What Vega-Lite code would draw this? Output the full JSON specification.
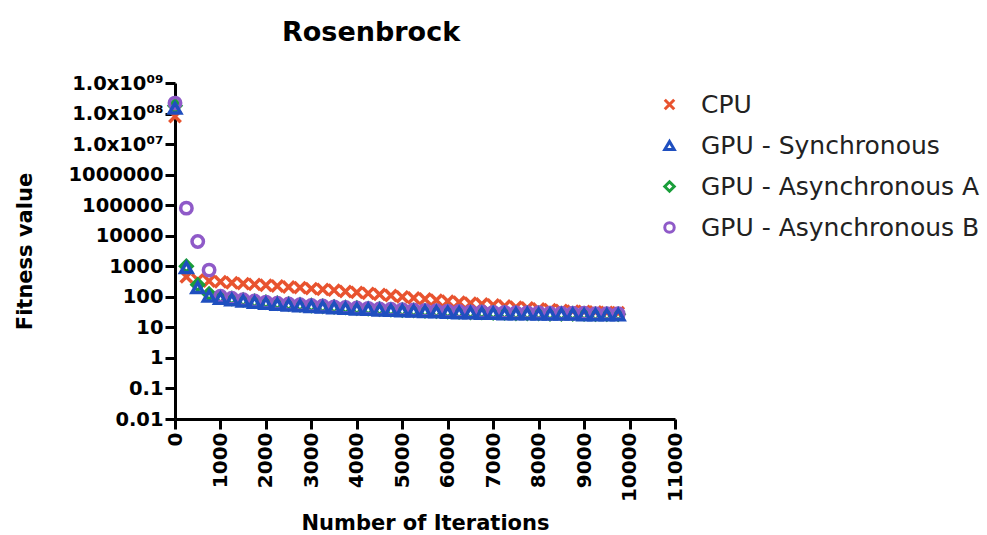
{
  "$schema": "https://vega.github.io/schema/vega-lite/v6.json",
  "width": 500,
  "height": 336,
  "autosize": {"type": "none"},
  "padding": {"left": 175, "top": 83, "right": 312, "bottom": 116},
  "background": "white",
  "config": {
    "view": {"stroke": null},
    "font": "DejaVu Sans"
  },
  "title": {
    "text": "Rosenbrock",
    "font": "DejaVu Sans",
    "fontSize": 27,
    "fontWeight": "bold",
    "color": "black",
    "anchor": "start",
    "frame": "group",
    "dx": 107,
    "offset": 26
  },
  "data": {
    "values": [
      {"it":0,"s":"CPU","v":80000000},{"it":250,"s":"CPU","v":450},{"it":500,"s":"CPU","v":360},{"it":750,"s":"CPU","v":330},{"it":1000,"s":"CPU","v":310},{"it":1250,"s":"CPU","v":290},{"it":1500,"s":"CPU","v":270},{"it":1750,"s":"CPU","v":255},{"it":2000,"s":"CPU","v":240},{"it":2250,"s":"CPU","v":225},{"it":2500,"s":"CPU","v":210},{"it":2750,"s":"CPU","v":200},{"it":3000,"s":"CPU","v":185},{"it":3250,"s":"CPU","v":175},{"it":3500,"s":"CPU","v":165},{"it":3750,"s":"CPU","v":150},{"it":4000,"s":"CPU","v":140},{"it":4250,"s":"CPU","v":130},{"it":4500,"s":"CPU","v":120},{"it":4750,"s":"CPU","v":110},{"it":5000,"s":"CPU","v":100},{"it":5250,"s":"CPU","v":92},{"it":5500,"s":"CPU","v":85},{"it":5750,"s":"CPU","v":78},{"it":6000,"s":"CPU","v":72},{"it":6250,"s":"CPU","v":67},{"it":6500,"s":"CPU","v":62},{"it":6750,"s":"CPU","v":58},{"it":7000,"s":"CPU","v":54},{"it":7250,"s":"CPU","v":50},{"it":7500,"s":"CPU","v":46},{"it":7750,"s":"CPU","v":43},{"it":8000,"s":"CPU","v":40},{"it":8250,"s":"CPU","v":38},{"it":8500,"s":"CPU","v":36},{"it":8750,"s":"CPU","v":34},{"it":9000,"s":"CPU","v":33},{"it":9250,"s":"CPU","v":32},{"it":9500,"s":"CPU","v":31},{"it":9750,"s":"CPU","v":30},
      {"it":0,"s":"GPU - Synchronous","v":150000000},{"it":250,"s":"GPU - Synchronous","v":900},{"it":500,"s":"GPU - Synchronous","v":200},{"it":750,"s":"GPU - Synchronous","v":105},{"it":1000,"s":"GPU - Synchronous","v":90},{"it":1250,"s":"GPU - Synchronous","v":80},{"it":1500,"s":"GPU - Synchronous","v":72},{"it":1750,"s":"GPU - Synchronous","v":66},{"it":2000,"s":"GPU - Synchronous","v":61},{"it":2250,"s":"GPU - Synchronous","v":57},{"it":2500,"s":"GPU - Synchronous","v":54},{"it":2750,"s":"GPU - Synchronous","v":51},{"it":3000,"s":"GPU - Synchronous","v":48},{"it":3250,"s":"GPU - Synchronous","v":46},{"it":3500,"s":"GPU - Synchronous","v":44},{"it":3750,"s":"GPU - Synchronous","v":42},{"it":4000,"s":"GPU - Synchronous","v":40},{"it":4250,"s":"GPU - Synchronous","v":39},{"it":4500,"s":"GPU - Synchronous","v":37},{"it":4750,"s":"GPU - Synchronous","v":36},{"it":5000,"s":"GPU - Synchronous","v":35},{"it":5250,"s":"GPU - Synchronous","v":34},{"it":5500,"s":"GPU - Synchronous","v":33},{"it":5750,"s":"GPU - Synchronous","v":32},{"it":6000,"s":"GPU - Synchronous","v":31},{"it":6250,"s":"GPU - Synchronous","v":30},{"it":6500,"s":"GPU - Synchronous","v":30},{"it":6750,"s":"GPU - Synchronous","v":29},{"it":7000,"s":"GPU - Synchronous","v":29},{"it":7250,"s":"GPU - Synchronous","v":28},{"it":7500,"s":"GPU - Synchronous","v":28},{"it":7750,"s":"GPU - Synchronous","v":28},{"it":8000,"s":"GPU - Synchronous","v":27},{"it":8250,"s":"GPU - Synchronous","v":27},{"it":8500,"s":"GPU - Synchronous","v":27},{"it":8750,"s":"GPU - Synchronous","v":27},{"it":9000,"s":"GPU - Synchronous","v":26},{"it":9250,"s":"GPU - Synchronous","v":26},{"it":9500,"s":"GPU - Synchronous","v":26},{"it":9750,"s":"GPU - Synchronous","v":26},
      {"it":0,"s":"GPU - Asynchronous A","v":180000000},{"it":250,"s":"GPU - Asynchronous A","v":1000},{"it":500,"s":"GPU - Asynchronous A","v":250},{"it":750,"s":"GPU - Asynchronous A","v":125},{"it":1000,"s":"GPU - Asynchronous A","v":100},{"it":1250,"s":"GPU - Asynchronous A","v":88},{"it":1500,"s":"GPU - Asynchronous A","v":79},{"it":1750,"s":"GPU - Asynchronous A","v":72},{"it":2000,"s":"GPU - Asynchronous A","v":67},{"it":2250,"s":"GPU - Asynchronous A","v":62},{"it":2500,"s":"GPU - Asynchronous A","v":58},{"it":2750,"s":"GPU - Asynchronous A","v":55},{"it":3000,"s":"GPU - Asynchronous A","v":52},{"it":3250,"s":"GPU - Asynchronous A","v":49},{"it":3500,"s":"GPU - Asynchronous A","v":47},{"it":3750,"s":"GPU - Asynchronous A","v":45},{"it":4000,"s":"GPU - Asynchronous A","v":43},{"it":4250,"s":"GPU - Asynchronous A","v":41},{"it":4500,"s":"GPU - Asynchronous A","v":40},{"it":4750,"s":"GPU - Asynchronous A","v":38},{"it":5000,"s":"GPU - Asynchronous A","v":37},{"it":5250,"s":"GPU - Asynchronous A","v":36},{"it":5500,"s":"GPU - Asynchronous A","v":35},{"it":5750,"s":"GPU - Asynchronous A","v":34},{"it":6000,"s":"GPU - Asynchronous A","v":33},{"it":6250,"s":"GPU - Asynchronous A","v":32},{"it":6500,"s":"GPU - Asynchronous A","v":31},{"it":6750,"s":"GPU - Asynchronous A","v":31},{"it":7000,"s":"GPU - Asynchronous A","v":30},{"it":7250,"s":"GPU - Asynchronous A","v":30},{"it":7500,"s":"GPU - Asynchronous A","v":29},{"it":7750,"s":"GPU - Asynchronous A","v":29},{"it":8000,"s":"GPU - Asynchronous A","v":29},{"it":8250,"s":"GPU - Asynchronous A","v":28},{"it":8500,"s":"GPU - Asynchronous A","v":28},{"it":8750,"s":"GPU - Asynchronous A","v":28},{"it":9000,"s":"GPU - Asynchronous A","v":28},{"it":9250,"s":"GPU - Asynchronous A","v":27},{"it":9500,"s":"GPU - Asynchronous A","v":27},{"it":9750,"s":"GPU - Asynchronous A","v":27},
      {"it":0,"s":"GPU - Asynchronous B","v":220000000},{"it":250,"s":"GPU - Asynchronous B","v":80000},{"it":500,"s":"GPU - Asynchronous B","v":6500},{"it":750,"s":"GPU - Asynchronous B","v":750},{"it":1000,"s":"GPU - Asynchronous B","v":105},{"it":1250,"s":"GPU - Asynchronous B","v":90},{"it":1500,"s":"GPU - Asynchronous B","v":80},{"it":1750,"s":"GPU - Asynchronous B","v":73},{"it":2000,"s":"GPU - Asynchronous B","v":67},{"it":2250,"s":"GPU - Asynchronous B","v":62},{"it":2500,"s":"GPU - Asynchronous B","v":58},{"it":2750,"s":"GPU - Asynchronous B","v":55},{"it":3000,"s":"GPU - Asynchronous B","v":52},{"it":3250,"s":"GPU - Asynchronous B","v":50},{"it":3500,"s":"GPU - Asynchronous B","v":47},{"it":3750,"s":"GPU - Asynchronous B","v":45},{"it":4000,"s":"GPU - Asynchronous B","v":43},{"it":4250,"s":"GPU - Asynchronous B","v":42},{"it":4500,"s":"GPU - Asynchronous B","v":40},{"it":4750,"s":"GPU - Asynchronous B","v":39},{"it":5000,"s":"GPU - Asynchronous B","v":38},{"it":5250,"s":"GPU - Asynchronous B","v":37},{"it":5500,"s":"GPU - Asynchronous B","v":36},{"it":5750,"s":"GPU - Asynchronous B","v":35},{"it":6000,"s":"GPU - Asynchronous B","v":34},{"it":6250,"s":"GPU - Asynchronous B","v":33},{"it":6500,"s":"GPU - Asynchronous B","v":32},{"it":6750,"s":"GPU - Asynchronous B","v":32},{"it":7000,"s":"GPU - Asynchronous B","v":31},{"it":7250,"s":"GPU - Asynchronous B","v":31},{"it":7500,"s":"GPU - Asynchronous B","v":30},{"it":7750,"s":"GPU - Asynchronous B","v":30},{"it":8000,"s":"GPU - Asynchronous B","v":30},{"it":8250,"s":"GPU - Asynchronous B","v":29},{"it":8500,"s":"GPU - Asynchronous B","v":29},{"it":8750,"s":"GPU - Asynchronous B","v":29},{"it":9000,"s":"GPU - Asynchronous B","v":29},{"it":9250,"s":"GPU - Asynchronous B","v":28},{"it":9500,"s":"GPU - Asynchronous B","v":28},{"it":9750,"s":"GPU - Asynchronous B","v":28}
    ]
  },
  "mark": {"type": "point", "filled": false, "strokeWidth": 3.5, "size": 130, "opacity": 1},
  "encoding": {
    "x": {
      "field": "it", "type": "quantitative",
      "scale": {"domain": [0, 11000], "nice": false, "zero": false},
      "axis": {
        "title": "Number of Iterations",
        "values": [0,1000,2000,3000,4000,5000,6000,7000,8000,9000,10000,11000],
        "format": "d",
        "grid": false,
        "labelAngle": 270,
        "labelFont": "DejaVu Sans", "labelFontSize": 20, "labelFontWeight": "bold", "labelColor": "black",
        "labelPadding": 3, "labelFlush": false, "labelOverlap": false,
        "domainColor": "black", "domainWidth": 3,
        "tickColor": "black", "tickWidth": 3, "tickSize": 10,
        "titleFont": "DejaVu Sans", "titleFontSize": 21, "titleFontWeight": "bold", "titleColor": "black",
        "titleY": 93
      }
    },
    "y": {
      "field": "v", "type": "quantitative",
      "scale": {"type": "log", "domain": [0.01, 1000000000], "nice": false},
      "axis": {
        "title": "Fitness value",
        "values": [0.01,0.1,1,10,100,1000,10000,100000,1000000,10000000,100000000,1000000000],
        "labelExpr": "datum.value >= 999999999 ? '1.0x10⁰⁹' : datum.value >= 99999999 ? '1.0x10⁰⁸' : datum.value >= 9999999 ? '1.0x10⁰⁷' : '' + datum.value",
        "grid": false,
        "labelFont": "DejaVu Sans", "labelFontSize": 19.5, "labelFontWeight": "bold", "labelColor": "black",
        "labelPadding": 2, "labelFlush": false, "labelOverlap": false,
        "domainColor": "black", "domainWidth": 3,
        "tickColor": "black", "tickWidth": 3, "tickSize": 10,
        "titleFont": "DejaVu Sans", "titleFontSize": 21, "titleFontWeight": "bold", "titleColor": "black",
        "titleX": -140, "titleY": 168
      }
    },
    "color": {
      "field": "s", "type": "nominal",
      "scale": {
        "domain": ["CPU", "GPU - Synchronous", "GPU - Asynchronous A", "GPU - Asynchronous B"],
        "range": ["#e8532f", "#1f4fbf", "#1a9e3a", "#8f5ac8"]
      },
      "legend": {
        "title": null,
        "orient": "none",
        "legendX": 482,
        "legendY": 9,
        "padding": 0,
        "labelFont": "DejaVu Sans", "labelFontSize": 25, "labelColor": "#222",
        "labelLimit": 0,
        "labelOffset": 19,
        "rowPadding": 15,
        "symbolSize": 90,
        "symbolStrokeWidth": 3
      }
    },
    "shape": {
      "field": "s", "type": "nominal",
      "scale": {
        "domain": ["CPU", "GPU - Synchronous", "GPU - Asynchronous A", "GPU - Asynchronous B"],
        "range": ["M-1,-1L1,1M1,-1L-1,1", "triangle-up", "diamond", "circle"]
      },
      "legend": null
    },
    "order": {"field": "s"}
  }
}
